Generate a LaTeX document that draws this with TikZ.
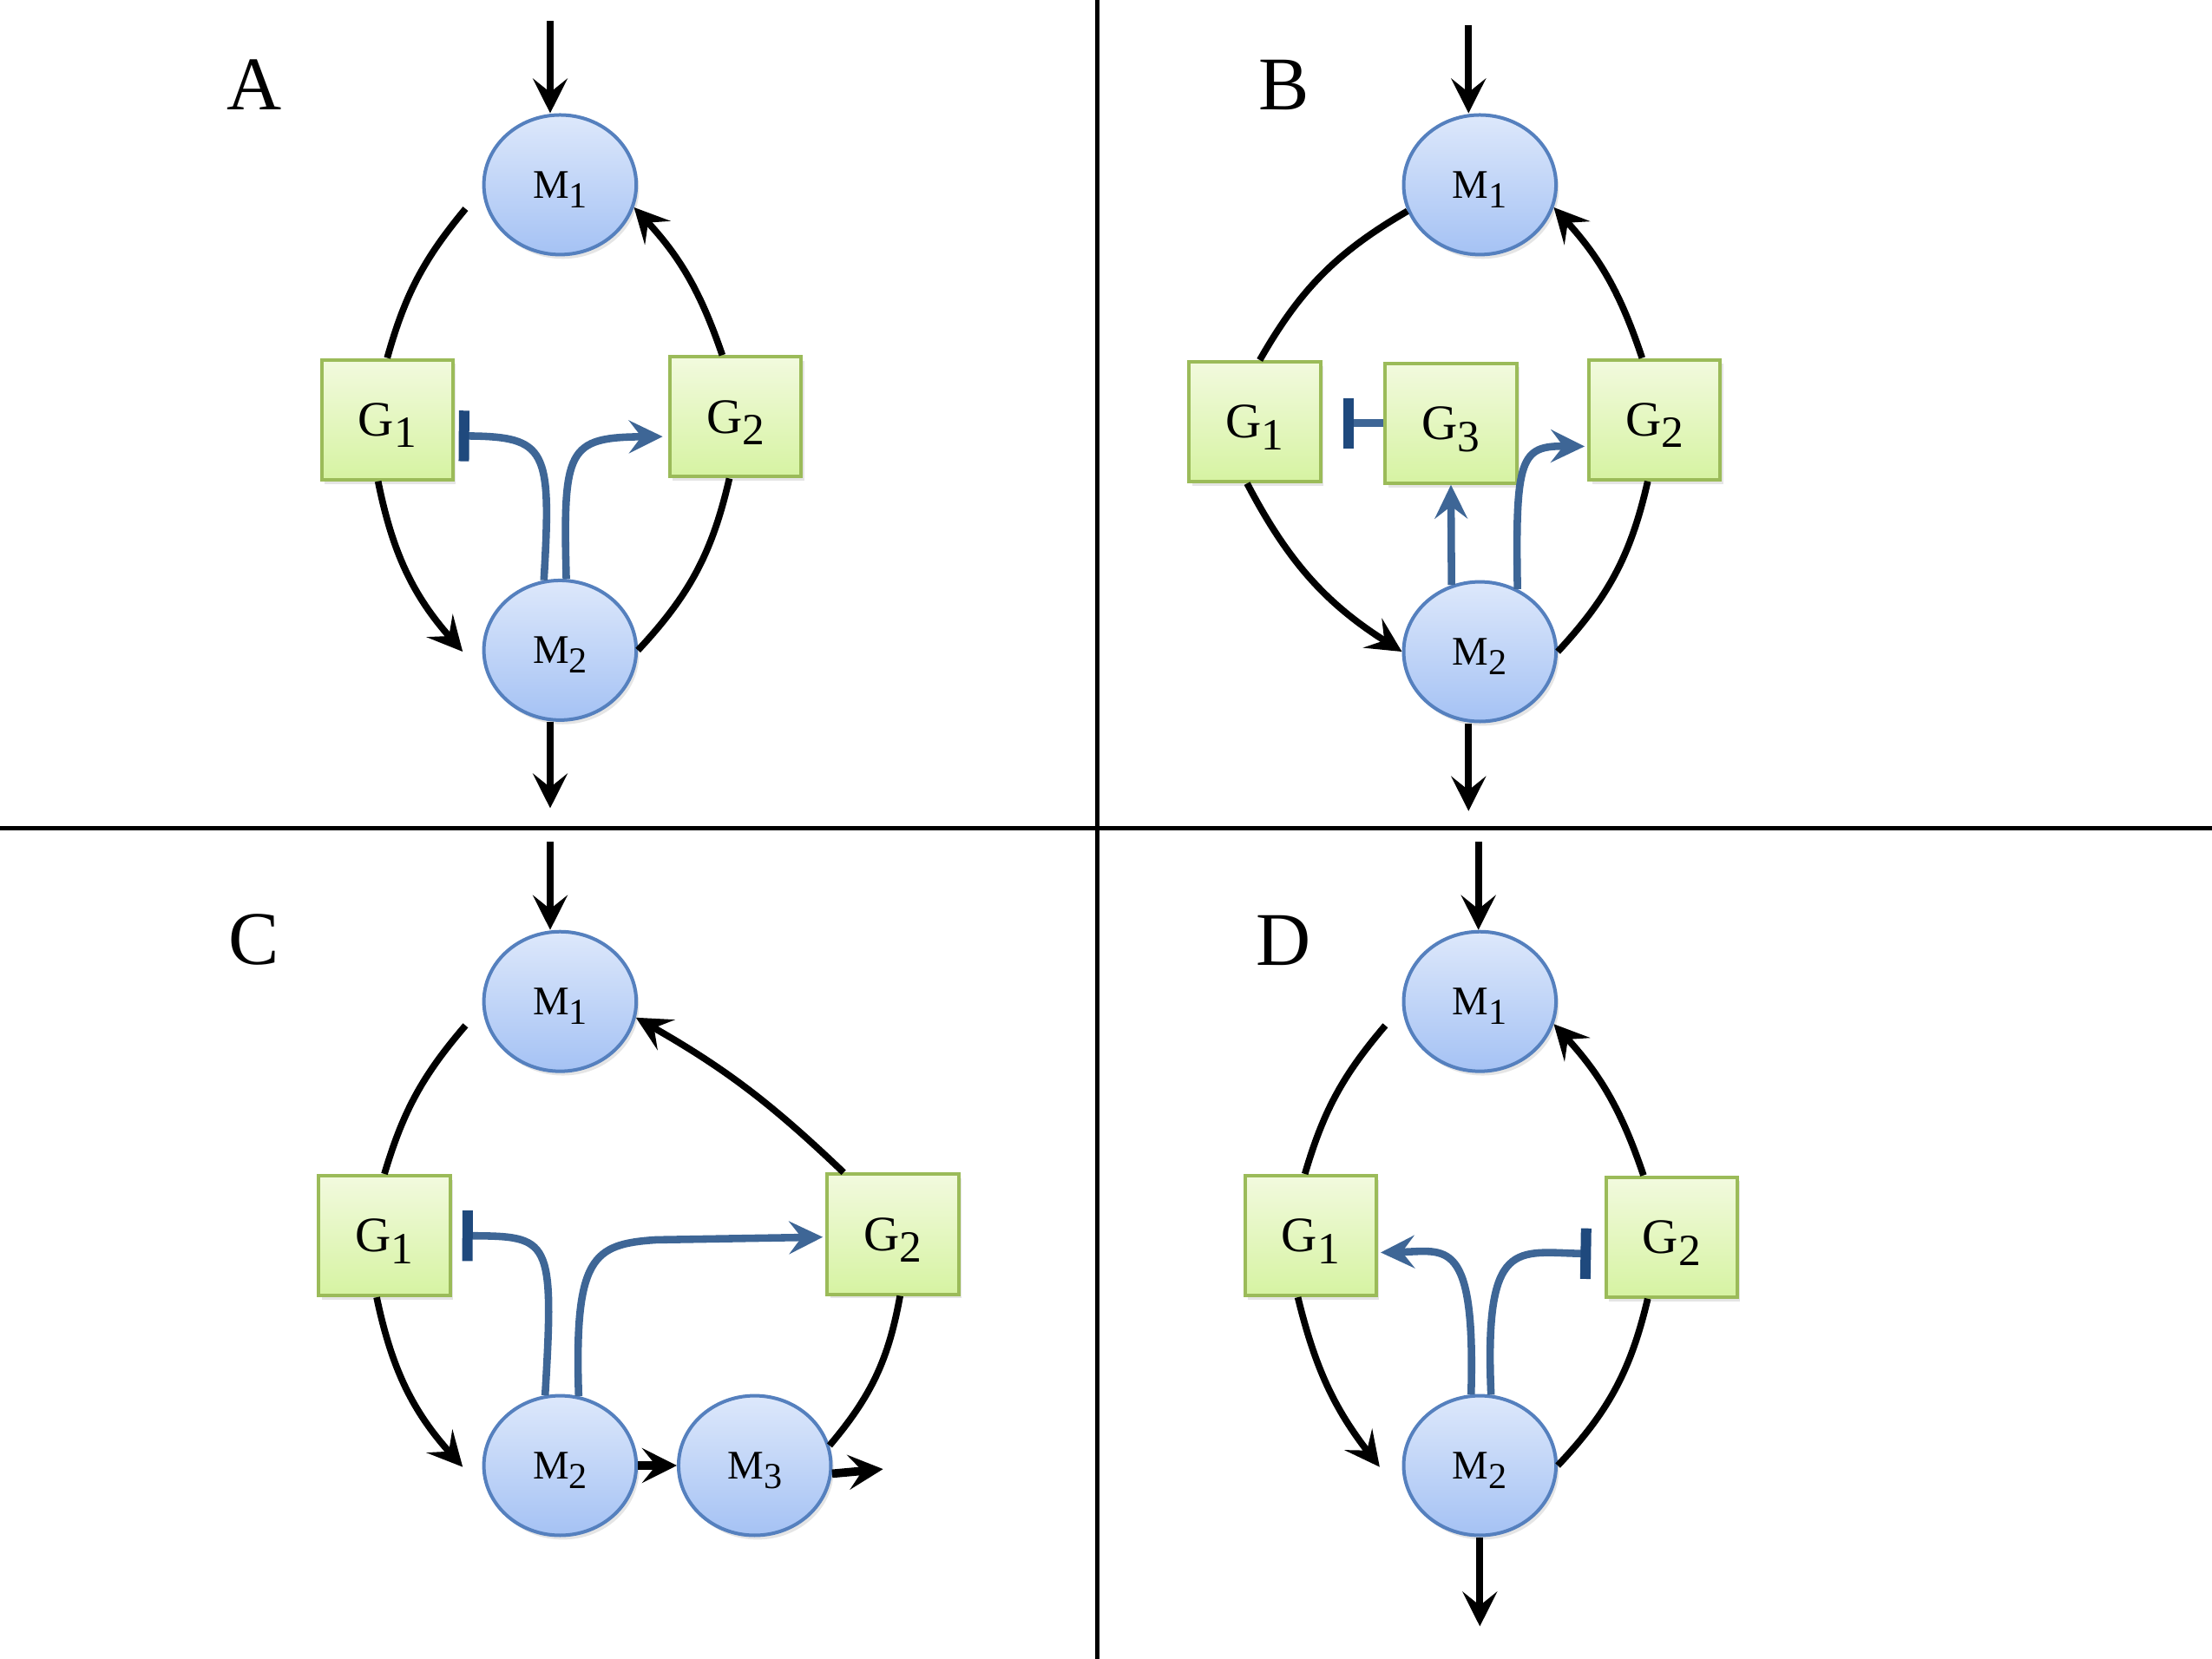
\documentclass[tikz,border=0pt]{standalone}
\usepackage{fontspec}
\setmainfont{Liberation Serif}
\usepackage{graphicx}
\usetikzlibrary{arrows.meta,shapes.geometric,shadows}
\definecolor{mettop}{HTML}{DDE8FB}
\definecolor{metbot}{HTML}{A5C2F4}
\definecolor{metborder}{HTML}{5580BE}
\definecolor{gentop}{HTML}{F2FADE}
\definecolor{genbot}{HTML}{D6F3A2}
\definecolor{genborder}{HTML}{9BBB59}
\definecolor{lineblue}{HTML}{3E6696}
\definecolor{barblue}{HTML}{1F497D}
\newcommand\lsub[1]{\smash{\raisebox{-0.24em}{\scalebox{0.9}{#1}}}}
\begin{document}
\begin{tikzpicture}[x=0.1mm,y=0.1mm,
  met/.style={ellipse, draw=metborder, line width=0.7pt, top color=mettop, bottom color=metbot,
    minimum width=10.8mm, minimum height=9.9mm, inner sep=0pt, font=\fontsize{8.2}{9}\selectfont,
    drop shadow={shadow xshift=0.2mm, shadow yshift=-0.3mm, opacity=0.2}},
  gen/.style={rectangle, draw=genborder, line width=0.7pt, top color=gentop, bottom color=genbot,
    minimum width=9.3mm, minimum height=8.5mm, inner sep=0pt, font=\fontsize{10}{11}\selectfont,
    drop shadow={shadow xshift=0.2mm, shadow yshift=-0.3mm, opacity=0.2}},
  lab/.style={inner sep=0pt, font=\fontsize{15.3}{18}\selectfont},
  blk/.style={line width=1.35pt, draw=black},
  thk/.style={line width=1.7pt, draw=black},
  arr/.style={-{Stealth[length=7pt,width=7pt,inset=2.8pt]}},
  act/.style={draw=lineblue, line width=1.5pt, -{Stealth[length=6.8pt,width=6.6pt,inset=2.5pt]}},
  inh/.style={draw=lineblue, line width=1.5pt, -{Bar[width=10.2pt,line width=2.1pt,color=barblue]}},
  divider/.style={line width=0.85pt, draw=black}]
\fill[white] (0,0) rectangle (1568,1176);
\useasboundingbox (0,0) rectangle (1568,1176);
% dividers
\coordinate (vt) at (777.7,1176); \coordinate (vb) at (777.7,0);
\coordinate (hl) at (0,588.6); \coordinate (hr) at (1568,588.6);
\draw[divider] (vt) -- (vb);
\draw[divider] (hl) -- (hr);

% ---------------- Panel A
\node[lab] (Alab) at (180,1115.7) {A};
\node[met] (AM1) at (397,1045) {M\lsub{1}};
\node[gen] (AG1) at (274.5,878.5) {G\lsub{1}};
\node[gen] (AG2) at (521.5,880.5) {G\lsub{2}};
\node[met] (AM2) at (397,715) {M\lsub{2}};
\coordinate (Ain) at (390,1161);
\coordinate (Aout) at (390,603);
\coordinate (As1) at (330,1028);
\coordinate (At1) at (328,714);
\draw[blk,arr] (Ain) -- (Ain |- AM1.north);
\draw[blk,arr] (AM2.south -| Aout) -- (Aout);
\draw[blk] (As1) to[bend right=12] (AG1.north);
\draw[blk,arr] ([xshift=-0.65mm]AG1.south) to[bend right=15] (At1);
\draw[blk] (AM2.east) to[bend right=15] ([xshift=-0.45mm]AG2.south);
\draw[blk,arr] ([xshift=-0.95mm]AG2.north) to[bend right=12] (AM1.-17);
\draw[inh, shorten >=0.3mm] (AM2.103) .. controls (391,858) and (388,866.5) .. ([yshift=-1.15mm]AG1.east);
\draw[act, shorten >=0.4mm] (AM2.85) .. controls (399,858) and (402,866) .. ([yshift=-1.4mm]AG2.west);

% ---------------- Panel B
\node[lab] (Blab) at (910,1115.7) {B};
\node[met] (BM1) at (1049,1045) {M\lsub{1}};
\node[gen] (BG1) at (889.5,877) {G\lsub{1}};
\node[gen] (BG3) at (1028.5,876) {G\lsub{3}};
\node[gen] (BG2) at (1173,878.5) {G\lsub{2}};
\node[met] (BM2) at (1049,714) {M\lsub{2}};
\coordinate (Bin) at (1041,1158);
\coordinate (Bout) at (1041,601);
\draw[blk,arr] (Bin) -- (Bin |- BM1.north);
\draw[blk,arr] (BM2.south -| Bout) -- (Bout);
\draw[blk] (BM1.200) to[bend right=15] ([xshift=0.35mm]BG1.north);
\draw[blk,arr] ([xshift=-0.55mm]BG1.south) to[bend right=15] (BM2.west);
\draw[blk] (BM2.east) to[bend right=15] ([xshift=-0.5mm]BG2.south);
\draw[blk,arr] ([xshift=-0.9mm]BG2.north) to[bend right=12] (BM1.-17);
\draw[inh, shorten >=1.5mm] (BG3.west) -- (BG3.west -| BG1.east);
\draw[act] (BM2.113) -- (BG3.south);
\draw[act, shorten >=0.2mm] (BM2.59) .. controls (1074,852) and (1078,860) .. ([yshift=-1.9mm]BG2.west);

% ---------------- Panel C
\node[lab] (Clab) at (180,509.5) {C};
\node[met] (CM1) at (397,466) {M\lsub{1}};
\node[gen] (CG1) at (272.5,300) {G\lsub{1}};
\node[gen] (CG2) at (633,301) {G\lsub{2}};
\node[met] (CM2) at (397,137) {M\lsub{2}};
\node[met] (CM3) at (535,137) {M\lsub{3}};
\coordinate (Cin) at (390,579);
\coordinate (Cs1) at (330,449);
\coordinate (Ct1) at (328,136);
\coordinate (Cout) at (626,134.5);
\draw[blk,arr] (Cin) -- (Cin |- CM1.north);
\draw[blk] (Cs1) to[bend right=12] (CG1.north);
\draw[blk,arr] ([xshift=-0.55mm]CG1.south) to[bend right=15] (Ct1);
\draw[blk] (CM3.15) to[bend right=15] ([xshift=0.5mm]CG2.south);
\draw[blk,arr] ([xshift=-3.5mm]CG2.north) to[bend right=7] (CM1.-12);
\draw[thk,arr] (CM2.east) -- (CM3.west);
\draw[thk,arr] (CM3.-6) -- (Cout);
\draw[inh, shorten >=0.75mm] (CM2.102) .. controls (393,299) and (390,299.5) .. (CG1.east);
\draw[act, shorten >=0.2mm] (CM2.75) .. controls (407,285) and (420,294) .. (465,297) -- ([yshift=-0.2mm]CG2.west);

% ---------------- Panel D
\node[lab] (Dlab) at (910,509.5) {D};
\node[met] (DM1) at (1049,466) {M\lsub{1}};
\node[gen] (DG1) at (929,300) {G\lsub{1}};
\node[gen] (DG2) at (1185,299) {G\lsub{2}};
\node[met] (DM2) at (1049,137) {M\lsub{2}};
\coordinate (Din) at (1048,579);
\coordinate (Dout) at (1049,23);
\coordinate (Ds1) at (982,449);
\coordinate (Dt1) at (978,136);
\draw[blk,arr] (Din) -- (Din |- DM1.north);
\draw[blk,arr] (DM2.south -| Dout) -- (Dout);
\draw[blk] (Ds1) to[bend right=12] ([xshift=-0.4mm]DG1.north);
\draw[blk,arr] ([xshift=-0.9mm]DG1.south) to[bend right=12] (Dt1);
\draw[blk] (DM2.east) to[bend right=15] ([xshift=-1.7mm]DG2.south);
\draw[blk,arr] ([xshift=-2mm]DG2.north) to[bend right=12] (DM1.-17);
\draw[act, shorten >=0.2mm] (DM2.97) .. controls (1046,300) and (1025,289) .. ([yshift=-1.2mm]DG1.east);
\draw[inh, shorten >=0.95mm] (DM2.81) .. controls (1052,300) and (1075,288) .. ([yshift=-1.2mm]DG2.west);
\end{tikzpicture}
\end{document}
